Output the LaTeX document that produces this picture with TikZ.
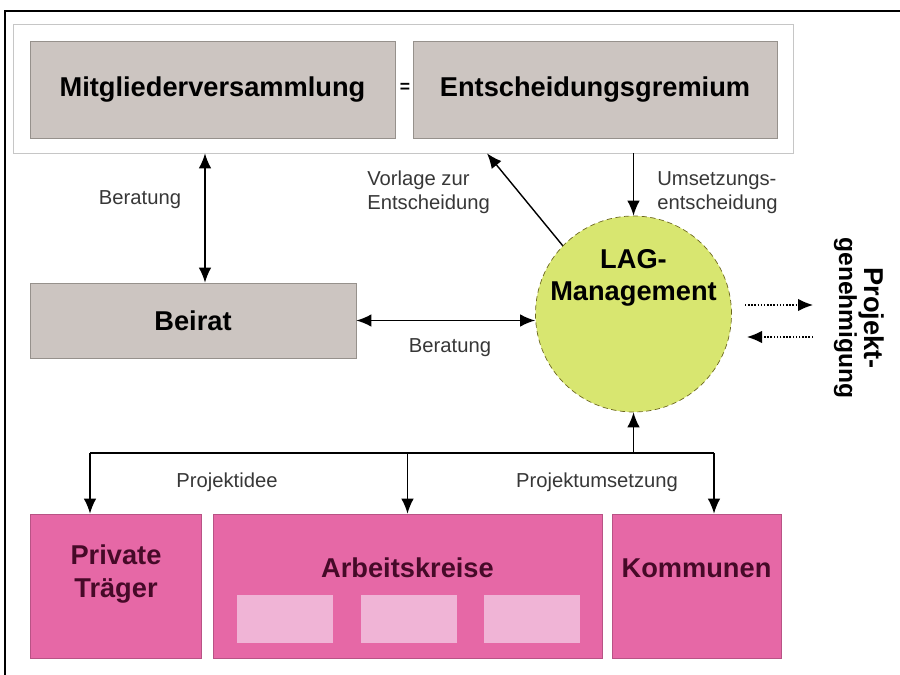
\documentclass[tikz,border=0pt]{standalone}
\usepackage{fontspec}
\setmainfont{Liberation Sans}
\usetikzlibrary{arrows.meta,positioning}
\definecolor{boxgray}{RGB}{204,197,193}
\definecolor{edgegray}{RGB}{150,145,140}
\definecolor{lagpink}{RGB}{230,104,166}
\definecolor{lightpink}{RGB}{240,180,214}
\definecolor{laggreen}{RGB}{216,230,112}
\definecolor{textgray}{RGB}{55,55,55}
\definecolor{maroon}{RGB}{70,10,40}

\begin{document}
\begin{tikzpicture}[
    x=0.2mm, y=-0.2mm,
    every node/.style={inner sep=0pt},
    boldtext/.style={font=\fontsize{15.5}{18.5}\selectfont\bfseries, align=center},
    small/.style={font=\fontsize{11.5}{13.6}\selectfont, text=textgray},
    frame/.style={draw=gray!45, fill=white, minimum width=156mm, minimum height=25.8mm},
    grayblock/.style={draw=edgegray, fill=boxgray, minimum height=19.4mm, boldtext},
    pinkblock/.style={draw=lagpink!80!black, fill=lagpink, minimum height=28.8mm},
    subblock/.style={fill=lightpink, minimum width=19.2mm, minimum height=9.6mm},
    lagcircle/.style={circle, draw=olive!70!black, densely dashed, thin, fill=laggreen, minimum size=39.2mm},
    flow/.style={-{Latex[length=3mm,width=2.5mm]}, thick},
    both/.style={{Latex[length=3mm,width=2.5mm]}-{Latex[length=3mm,width=2.5mm]}, thick},
    dotflow/.style={-{Latex[length=3mm,width=2.5mm]}, thick, densely dotted}
]
\useasboundingbox (0,0) rectangle (900,675);
\draw[line width=0.8pt] (5,675) -- (5,11) -- (900,11);

\node[frame] (top) at (403,88.5) {};
\node[grayblock, minimum width=73mm] (mitglieder) at (212.5,89.5) {Mitgliederversammlung};
\node[grayblock, minimum width=72.8mm] (gremium) at (595,89.5) {Entscheidungsgremium};
\node[font=\bfseries] (equal) at (405,88) {=};

\node[grayblock, minimum width=65.2mm, minimum height=15mm] (beirat) at (193,320.5) {Beirat};
\node[lagcircle] (lag) at (633.5,314) {};
\node[boldtext] (lagtitle) at (633.5,278) {LAG-\\Management};

\node[pinkblock, minimum width=34.2mm] (private) at (115.5,586) {};
\node[pinkblock, minimum width=77.8mm] (arbeit) at (407.5,586) {};
\node[pinkblock, minimum width=33.8mm] (kommunen) at (696.5,586) {};
\node[boldtext, text=maroon] (privatetext) at (116,574) {Private\\Träger};
\node[boldtext, text=maroon] (arbeittext) at (407.5,568) {Arbeitskreise};
\node[boldtext, text=maroon] (kommunentext) at (696.5,568) {Kommunen};
\node[subblock] (ak1) at (285,619) {};
\node[subblock] (ak2) at (408.5,619) {};
\node[subblock] (ak3) at (531.5,619) {};

\node[small] (beratung1) at (140,200) {Beratung};
\node[small] (beratung2) at (450,348) {Beratung};
\node[small, align=left, anchor=west] (vorlage) at (367,192) {Vorlage zur\\Entscheidung};
\node[small, align=left, anchor=west] (umsetzung) at (657,193) {Umsetzungs-\\entscheidung};
\node[small] (idee) at (227,482) {Projektidee};
\node[small] (projumsetzung) at (597,482) {Projektumsetzung};
\node[rotate=-90, align=center, font=\bfseries] (genehmigung) at (859,318)
    {{\fontsize{15.5}{21}\selectfont Projekt-}\\{\fontsize{14}{21}\selectfont genehmigung}};

\coordinate (bx) at (205,0);
\coordinate (vz) at (487,0);
\coordinate (j1) at (90,453);
\coordinate (j3) at (714,453);
\coordinate (rout1) at (745,305);
\coordinate (rout2) at (813,305);
\coordinate (rin1) at (813,337);
\coordinate (rin2) at (747,337);

\draw[both] (bx |- top.south) -- (bx |- beirat.north);
\draw[both] (beirat.east) -- (beirat.east -| lag.west);
\draw[flow] (lag.136) -- (vz |- top.south);
\draw[flow] (lag.north |- top.south) -- (lag.north);
\draw[thick] (j1) -- (j3);
\draw[flow] (j1) -- (j1 |- private.north);
\draw[flow] (arbeit.north |- j1) -- (arbeit.north);
\draw[flow] (j3) -- (j3 |- kommunen.north);
\draw[flow] (lag.south |- j1) -- (lag.south);
\draw[dotflow] (rout1) -- (rout2);
\draw[dotflow] (rin1) -- (rin2);
\end{tikzpicture}
\end{document}
